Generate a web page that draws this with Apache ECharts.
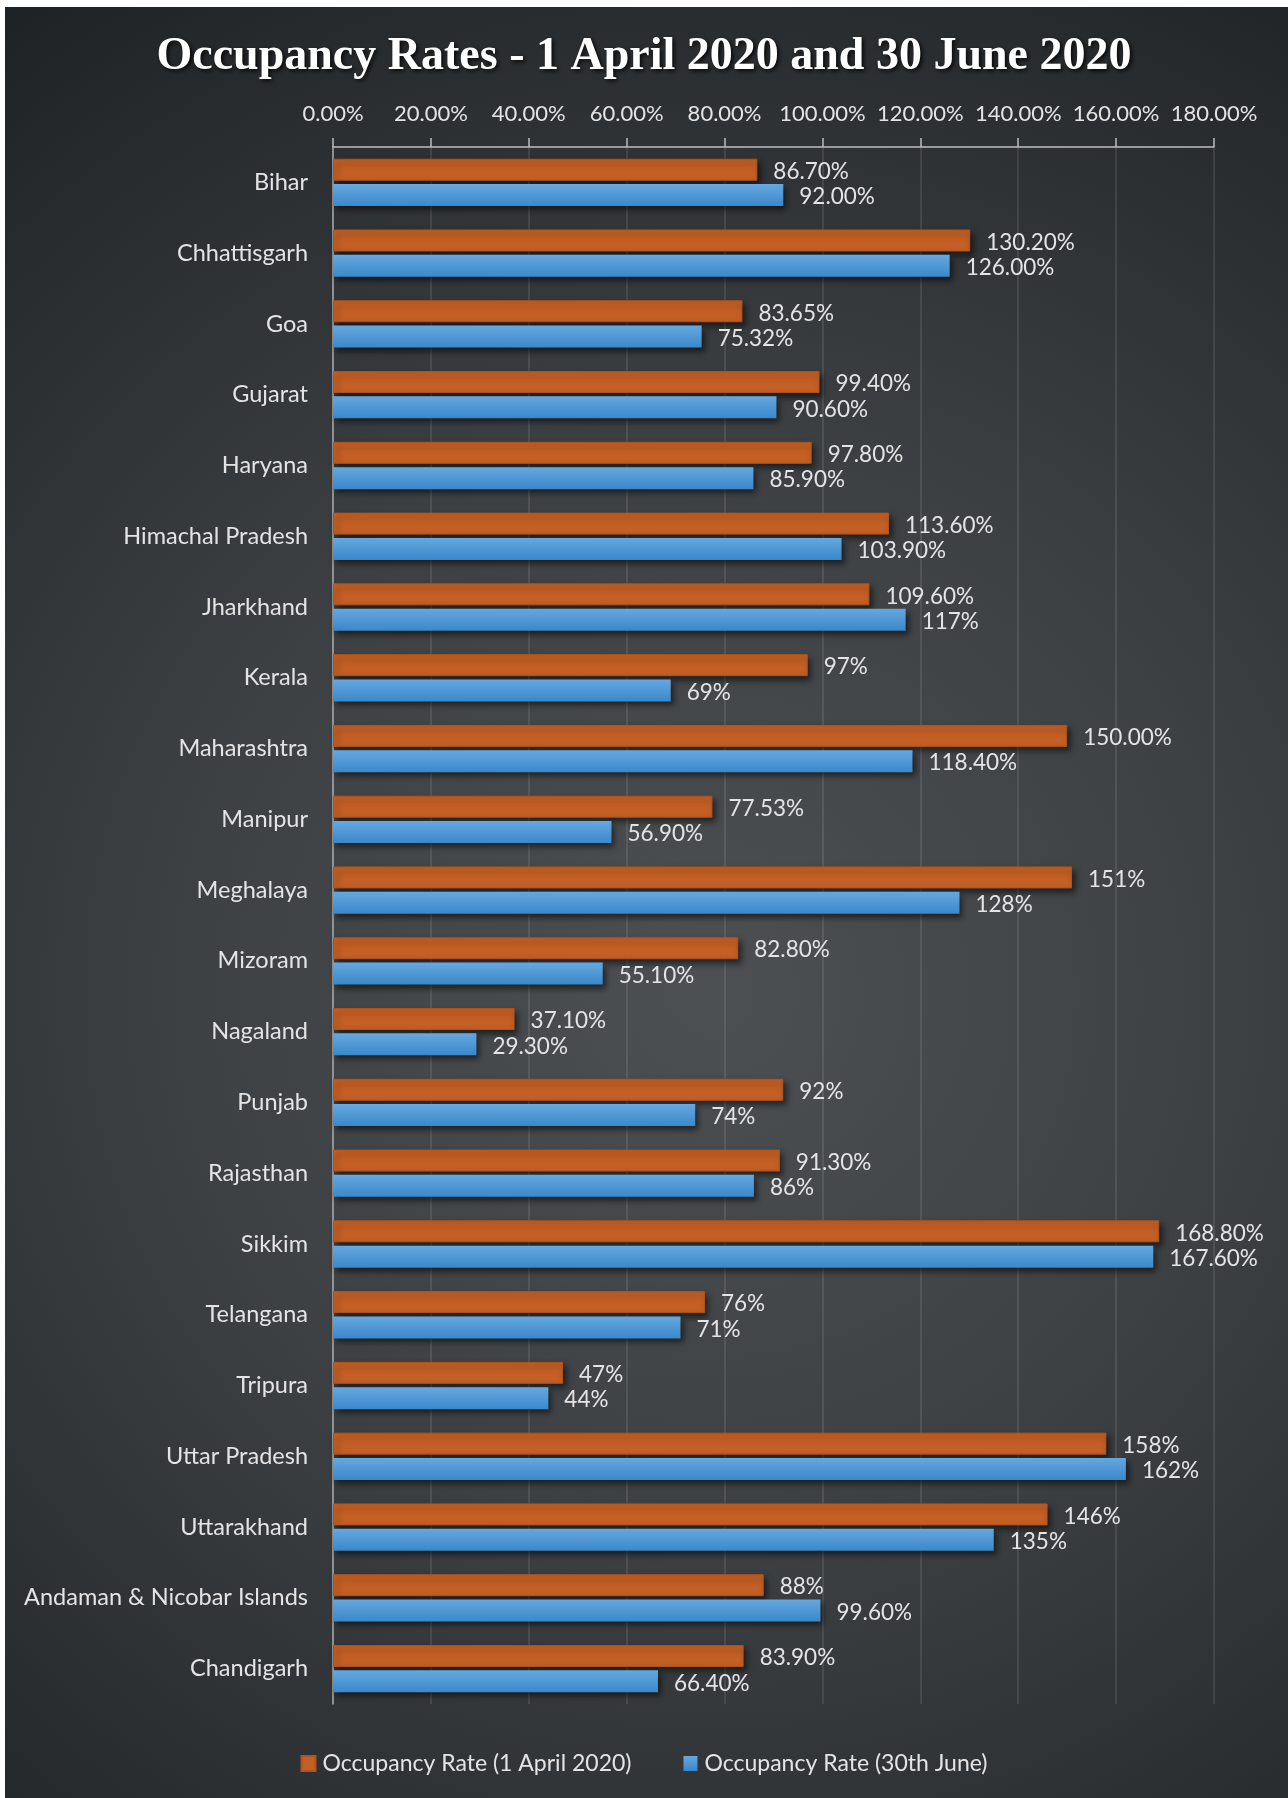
<!DOCTYPE html>
<html>
<head>
<meta charset="utf-8">
<script src="https://cdn.jsdelivr.net/npm/echarts@6/dist/echarts.min.js"></script>
<style>
  html, body { margin: 0; padding: 0; background: #ffffff; }
  #chart { width: 1288px; height: 1798px; }
</style>
</head>
<body>
<div id="chart"></div>
<script>
// State-wise occupancy rates (percent)
const states = [
  'Bihar', 'Chhattisgarh', 'Goa', 'Gujarat', 'Haryana', 'Himachal Pradesh',
  'Jharkhand', 'Kerala', 'Maharashtra', 'Manipur', 'Meghalaya', 'Mizoram',
  'Nagaland', 'Punjab', 'Rajasthan', 'Sikkim', 'Telangana', 'Tripura',
  'Uttar Pradesh', 'Uttarakhand', 'Andaman & Nicobar Islands', 'Chandigarh'
];
const april = [86.70, 130.20, 83.65, 99.40, 97.80, 113.60, 109.60, 97, 150.00, 77.53, 151, 82.80,
               37.10, 92, 91.30, 168.80, 76, 47, 158, 146, 88, 83.90];
const aprilDecimals = [2, 2, 2, 2, 2, 2, 2, 0, 2, 2, 0, 2, 2, 0, 2, 2, 0, 0, 0, 0, 0, 2];
const june = [92.00, 126.00, 75.32, 90.60, 85.90, 103.90, 117, 69, 118.40, 56.90, 128, 55.10,
              29.30, 74, 86, 167.60, 71, 44, 162, 135, 99.60, 66.40];
const juneDecimals = [2, 2, 2, 2, 2, 2, 0, 0, 2, 2, 0, 2, 2, 0, 0, 2, 0, 0, 0, 0, 2, 2];
const seriesNames = ['Occupancy Rate (1 April 2020)', 'Occupancy Rate (30th June)'];
const axisMax = 180;
const axisStep = 20;

const textFont = 'Lato, "Open Sans", sans-serif';
const textColor = '#e4e4e4';

const chart = echarts.init(document.getElementById('chart'), null, { renderer: 'canvas' });

function valueLabel(decimals) {
  return {
    show: true,
    position: 'right',
    distance: 16,
    offset: [0, 2],
    color: textColor,
    fontFamily: textFont,
    fontSize: 22.5,
    formatter: p => p.value.toFixed(decimals[p.dataIndex]) + '%'
  };
}

const barShadow = {
  shadowColor: 'rgba(0,0,0,0.55)',
  shadowBlur: 6,
  shadowOffsetX: 3,
  shadowOffsetY: 4
};

chart.setOption({
  backgroundColor: 'transparent',
  animation: false,
  graphic: [{
    type: 'rect',
    z: -100,
    silent: true,
    shape: { x: 5, y: 7, width: 1283, height: 1791 },
    style: {
      fill: {
        type: 'radial', x: 0.55, y: 0.55, r: 0.95,
        colorStops: [
          { offset: 0, color: '#4d5053' },
          { offset: 0.45, color: '#3d4043' },
          { offset: 1, color: '#1f2225' }
        ]
      }
    }
  }],
  title: {
    text: 'Occupancy Rates - 1 April 2020 and 30 June 2020',
    left: 'center',
    top: 29,
    textStyle: {
      fontFamily: '"Liberation Serif", "DejaVu Serif", serif',
      fontWeight: 'bold',
      fontSize: 46,
      color: '#ffffff',
      textShadowColor: 'rgba(0,0,0,0.85)',
      textShadowBlur: 4,
      textShadowOffsetX: 2,
      textShadowOffsetY: 2
    }
  },
  legend: {
    bottom: 18,
    left: 'center',
    itemWidth: 14,
    itemHeight: 15,
    itemGap: 52,
    icon: 'rect',
    textStyle: { color: textColor, fontFamily: textFont, fontSize: 23, padding: [0, 0, 0, 2] },
    data: seriesNames
  },
  grid: { left: 333, right: 74, top: 147, bottom: 94, containLabel: false },
  xAxis: {
    type: 'value',
    position: 'top',
    min: 0,
    max: axisMax,
    interval: axisStep,
    axisLine: { show: true, lineStyle: { color: '#bdbdbd', width: 1.5 } },
    axisTick: { show: true, length: 9, lineStyle: { color: '#bdbdbd', width: 1.5 } },
    axisLabel: {
      color: textColor, fontFamily: textFont, fontSize: 22, margin: 22,
      formatter: v => v.toFixed(2) + '%'
    },
    splitLine: { show: true, lineStyle: { color: 'rgba(255,255,255,0.13)', width: 1.5 } }
  },
  yAxis: {
    type: 'category',
    inverse: true,
    data: states,
    axisLine: { show: true, lineStyle: { color: '#a9a9a9', width: 1.5 } },
    axisTick: { show: false },
    axisLabel: { color: textColor, fontFamily: textFont, fontSize: 23.5, margin: 25 }
  },
  series: [
    {
      name: seriesNames[0],
      type: 'bar',
      data: april,
      barWidth: 22,
      barGap: '15%',
      itemStyle: Object.assign({
        color: '#c45f25',
        borderColor: '#b0531e',
        borderWidth: 1
      }, barShadow),
      label: valueLabel(aprilDecimals)
    },
    {
      name: seriesNames[1],
      type: 'bar',
      data: june,
      barWidth: 22,
      itemStyle: Object.assign({
        color: {
          type: 'linear', x: 0, y: 0, x2: 0, y2: 1,
          colorStops: [
            { offset: 0, color: '#66a8df' },
            { offset: 1, color: '#3a88cb' }
          ]
        }
      }, barShadow),
      label: valueLabel(juneDecimals)
    }
  ]
});
</script>
</body>
</html>
